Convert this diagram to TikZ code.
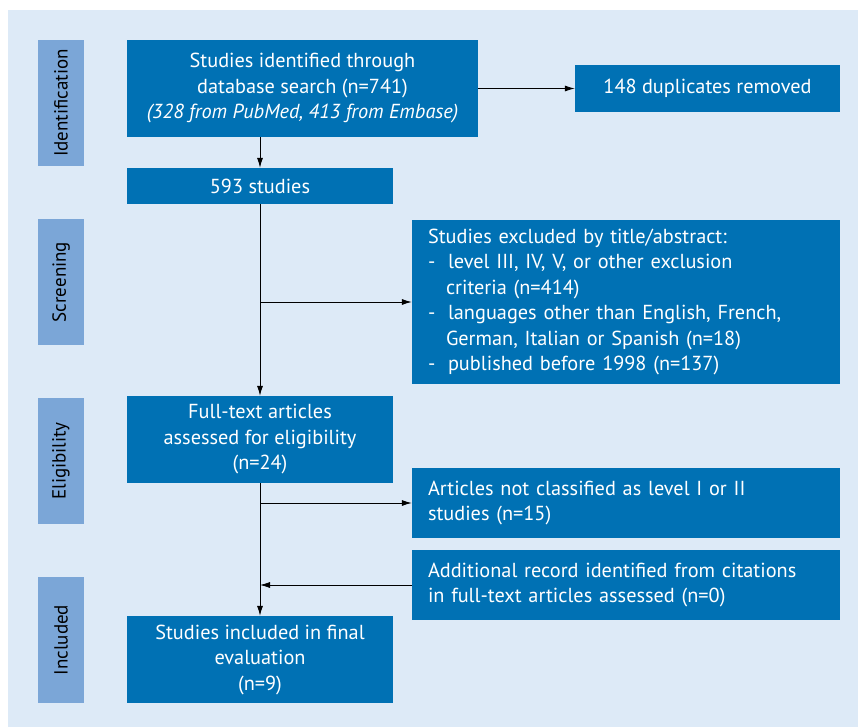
\documentclass[tikz,border=0pt]{standalone}
\usepackage{fontspec}
\setmainfont{PT Sans}
\usetikzlibrary{arrows.meta}
\definecolor{pagebg}{HTML}{DDEAF7}
\definecolor{boxblue}{HTML}{0071B4}
\definecolor{sideblue}{HTML}{7BA6D7}
\newcommand{\dash}{\makebox[20pt][l]{-}}
\begin{document}
\begin{tikzpicture}[x=1pt, y=-1pt, >={Latex[length=10pt,width=6pt]},
        every node/.style={font=\fontsize{20.3}{25.5}\selectfont, text=white, inner sep=0pt},
        phase/.style={fill=sideblue, text=black, rotate=90, minimum width=126pt, minimum height=46pt,
            font=\fontsize{19}{22}\selectfont},
        mainbox/.style={fill=boxblue, align=center, minimum width=266pt},
        sidebox/.style={fill=boxblue, align=left, text width=396pt, inner xsep=16pt, minimum width=428pt}]
        \useasboundingbox (0,0) rectangle (858,727);
        \fill[pagebg] (8,10) rectangle (858,727);
        \node[phase] (pid) at (61,103) {Identification};
        \node[phase] (pscr) at (61,282) {Screening};
        \node[phase] (pelig) at (61,461) {Eligibility};
        \node[phase] (pincl) at (61,640) {Included};
        \node[mainbox, minimum width=351pt, minimum height=97pt] (found) at (302.5,88.5)
            {Studies identified through\\database search (n=741)\\\textit{(328 from PubMed, 413 from Embase)}};
        \node[mainbox, minimum width=265pt, minimum height=47pt] (dupl) at (707.5,88.5) {148 duplicates removed};
        \node[mainbox, minimum height=36pt] (studies) at (260,186) {593 studies};
        \node[sidebox, minimum height=164pt] (excl) at (626,302)
            {Studies excluded by title/abstract:\\
             \dash level III, IV, V, or other exclusion\\
             \hspace*{18pt}criteria (n=414)\\
             \dash languages other than English, French,\\
             \hspace*{18pt}German, Italian or Spanish (n=18)\\
             \dash published before 1998 (n=137)};
        \node[mainbox, minimum height=87pt] (fulltext) at (260,439.5)
            {Full-text articles\\assessed for eligibility\\(n=24)};
        \node[sidebox, minimum height=70pt] (notcl) at (626,503)
            {Articles not classified as level I or II\\studies (n=15)};
        \node[sidebox, minimum height=70pt] (addrec) at (626,585)
            {Additional record identified from citations\\in full-text articles assessed (n=0)};
        \node[mainbox, minimum height=87pt] (incl) at (260,659.5)
            {Studies included in final\\evaluation\\(n=9)};
        \draw[->, thick] (found) -- (dupl);
        \draw[->, thick] (studies.north |- found.south) -- (studies.north);
        \draw[->, thick] (studies) -- (fulltext);
        \draw[->, thick] (studies.south |- excl.west) -- (excl.west);
        \draw[->, thick] (fulltext) -- (incl);
        \draw[->, thick] (fulltext.south |- notcl.west) -- (notcl.west);
        \draw[->, thick] (addrec.west) -- (fulltext.south |- addrec.west);
    \end{tikzpicture}
\end{document}
